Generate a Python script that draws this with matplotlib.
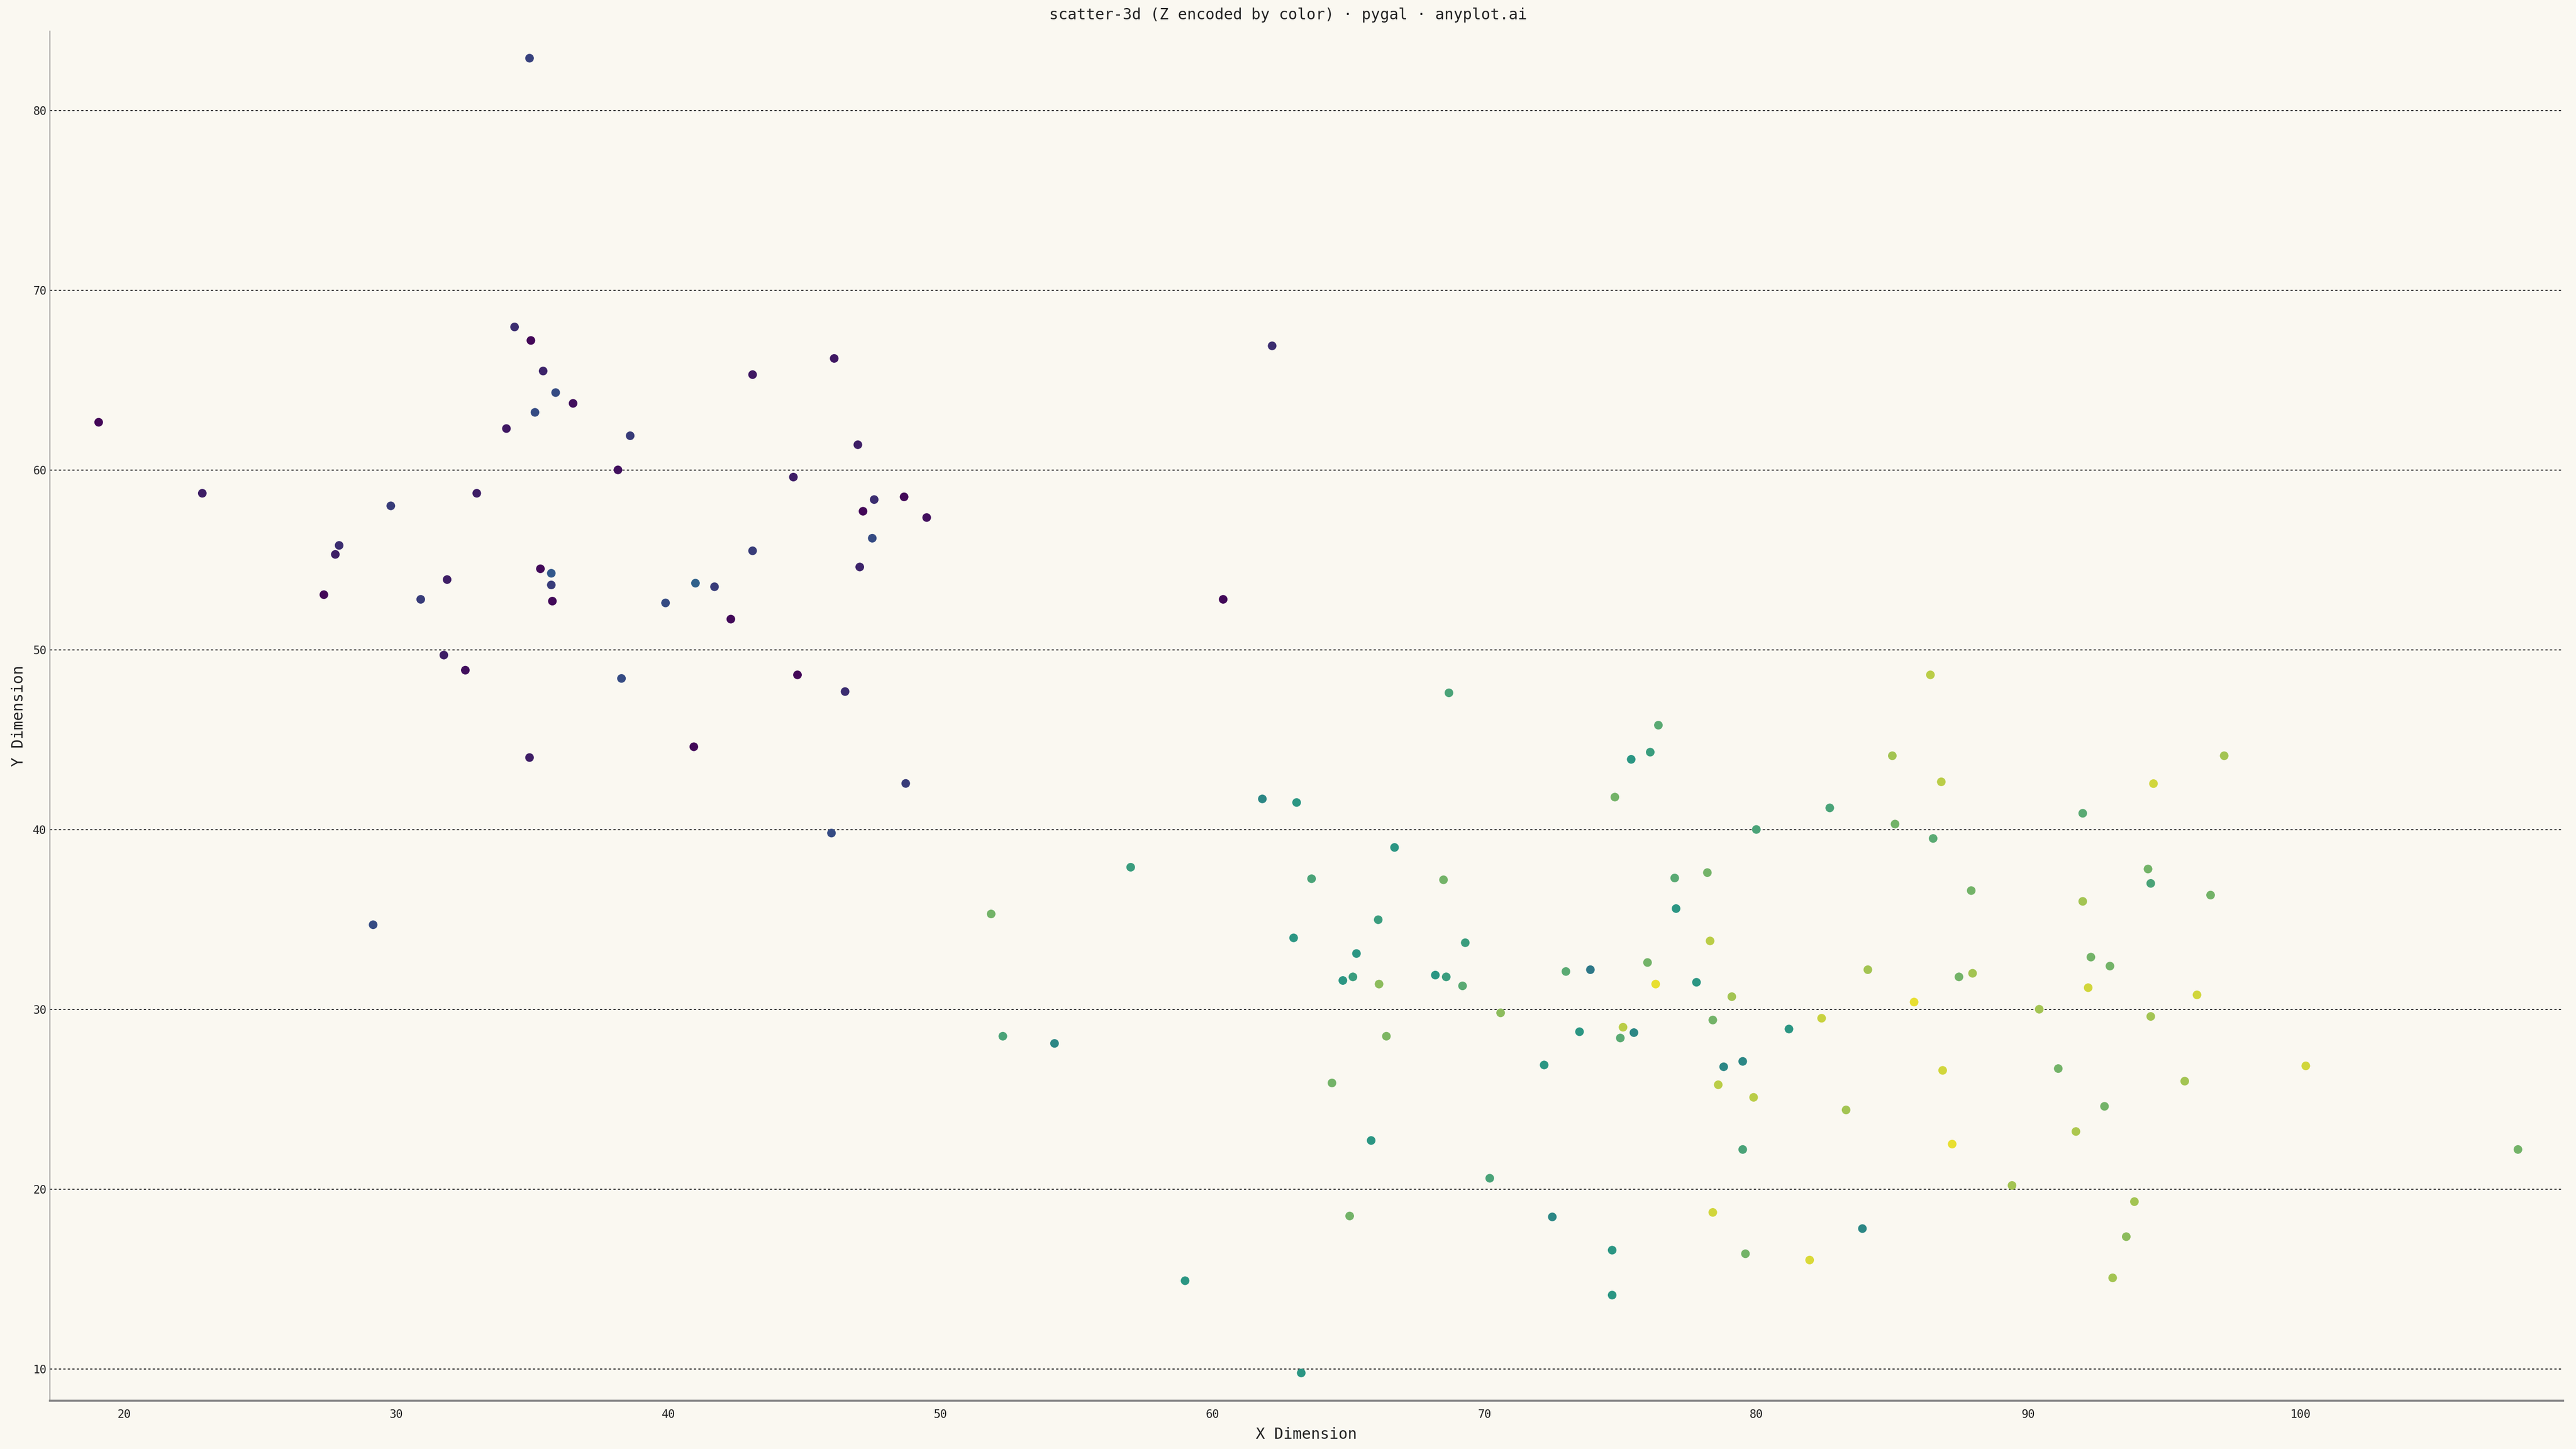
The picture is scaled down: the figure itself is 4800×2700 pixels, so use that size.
import numpy as np
import matplotlib
matplotlib.use("Agg")
import matplotlib.pyplot as plt
from matplotlib.colors import LinearSegmentedColormap

# values
x_vals = [19.06, 22.87, 34.9, 34.35, 34.95, 35.4, 35.86, 36.5, 35.1, 34.05,
          38.6, 38.15, 32.96, 29.8, 27.9, 27.76, 27.34, 31.87, 30.9, 35.3,
          35.7, 35.7, 35.74, 31.75, 32.54, 38.28, 34.9, 29.15, 39.9, 41.0,
          41.7, 42.3, 43.1, 43.1, 44.6, 44.75, 40.94, 46.1, 46.97, 47.57,
          47.16, 48.67, 49.5, 47.5, 47.04, 46.5, 48.73, 46.0, 60.4, 62.2,
          51.87, 52.3, 54.2, 57.0, 59.0, 61.84, 63.1, 63.65, 62.99, 63.27,
          64.4, 64.8, 65.17, 65.3, 65.05, 65.84, 66.1, 66.13, 66.4, 66.7,
          68.2, 68.6, 68.5, 68.7, 69.2, 69.3, 70.2, 70.6, 72.2, 72.5,
          73.0, 73.5, 73.9, 74.7, 74.7, 74.8, 75.0, 75.1, 75.4, 75.5,
          76.0, 76.1, 76.4, 76.3, 77.0, 77.05, 77.8, 78.2, 78.3, 78.4,
          78.4, 78.6, 78.8, 79.1, 79.5, 79.5, 79.6, 79.9, 80.0, 81.2,
          81.96, 82.4, 82.7, 83.3, 83.9, 84.1, 85.0, 85.1, 85.8, 86.4,
          86.5, 86.8, 86.85, 87.2, 87.45, 87.9, 87.95, 89.4, 90.4, 91.1,
          91.75, 92.0, 92.0, 92.2, 92.3, 92.8, 93.0, 93.1, 93.6, 93.9,
          94.4, 94.5, 94.5, 94.6, 95.75, 96.2, 96.7, 97.2, 100.2, 108.0]
y_vals = [62.65, 58.7, 82.9, 67.95, 67.2, 65.5, 64.3, 63.7, 63.2, 62.3,
          61.9, 60.0, 58.7, 58.0, 55.8, 55.3, 53.06, 53.9, 52.8, 54.5,
          54.25, 53.6, 52.7, 49.7, 48.86, 48.4, 44.0, 34.7, 52.6, 53.7,
          53.5, 51.7, 65.3, 55.5, 59.6, 48.6, 44.6, 66.2, 61.4, 58.35,
          57.7, 58.5, 57.35, 56.2, 54.6, 47.67, 42.56, 39.8, 52.8, 66.9,
          35.3, 28.5, 28.1, 37.9, 14.9, 41.7, 41.5, 37.26, 33.97, 9.77,
          25.9, 31.6, 31.8, 33.1, 18.5, 22.7, 34.98, 31.4, 28.5, 39.0,
          31.9, 31.8, 37.2, 47.6, 31.3, 33.7, 20.6, 29.8, 26.9, 18.45,
          32.1, 28.75, 32.2, 16.6, 14.1, 41.8, 28.4, 29.0, 43.9, 28.7,
          32.6, 44.3, 45.8, 31.4, 37.3, 35.6, 31.5, 37.6, 33.8, 29.4,
          18.7, 25.8, 26.8, 30.7, 27.1, 22.2, 16.4, 25.1, 40.0, 28.9,
          16.05, 29.5, 41.2, 24.4, 17.8, 32.2, 44.1, 40.3, 30.4, 48.6,
          39.5, 42.65, 26.6, 22.5, 31.8, 36.6, 32.0, 20.2, 30.0, 26.7,
          23.2, 40.9, 36.0, 31.2, 32.9, 24.6, 32.4, 15.06, 17.35, 19.3,
          37.8, 29.6, 37.0, 42.55, 26.0, 30.8, 36.35, 44.1, 26.85, 22.2]
z_vals = [0.02, 0.10, 0.22, 0.15, 0.02, 0.12, 0.25, 0.05, 0.25, 0.08,
          0.20, 0.05, 0.10, 0.20, 0.15, 0.10, 0.02, 0.10, 0.20, 0.03,
          0.30, 0.20, 0.03, 0.10, 0.05, 0.25, 0.10, 0.25, 0.25, 0.33,
          0.20, 0.03, 0.08, 0.20, 0.10, 0.02, 0.03, 0.08, 0.10, 0.15,
          0.02, 0.03, 0.05, 0.25, 0.12, 0.15, 0.20, 0.25, 0.03, 0.15,
          0.70, 0.60, 0.45, 0.55, 0.50, 0.45, 0.50, 0.60, 0.50, 0.50,
          0.70, 0.50, 0.55, 0.50, 0.70, 0.50, 0.55, 0.75, 0.72, 0.50,
          0.50, 0.55, 0.70, 0.60, 0.65, 0.55, 0.60, 0.75, 0.50, 0.45,
          0.65, 0.50, 0.40, 0.50, 0.50, 0.70, 0.65, 0.85, 0.50, 0.45,
          0.70, 0.55, 0.65, 0.95, 0.65, 0.50, 0.50, 0.70, 0.85, 0.70,
          0.90, 0.85, 0.45, 0.80, 0.45, 0.60, 0.70, 0.85, 0.60, 0.50,
          0.92, 0.88, 0.60, 0.80, 0.45, 0.80, 0.80, 0.70, 0.95, 0.85,
          0.65, 0.85, 0.90, 0.95, 0.70, 0.70, 0.80, 0.80, 0.80, 0.70,
          0.82, 0.65, 0.80, 0.90, 0.70, 0.70, 0.70, 0.80, 0.75, 0.80,
          0.70, 0.80, 0.60, 0.90, 0.80, 0.90, 0.70, 0.80, 0.90, 0.70]

title = "scatter-3d (Z encoded by color) · pygal · anyplot.ai"
bg = "#faf8f1"
# muted viridis-like ramp, sampled from the reference dots
stop_pos = [0.0, 0.3, 0.5, 0.65, 0.8, 1.0]
stop_colors = ["#440154", "#32598c", "#2a9683", "#5aaa73", "#a3c452", "#fde725"]

plt.rcParams["font.family"] = ["DejaVu Sans Mono", "DejaVu Sans"]

cmap = LinearSegmentedColormap.from_list("z_scale", list(zip(stop_pos, stop_colors)))

fig = plt.figure(figsize=(16, 9), dpi=300, facecolor=bg)
ax = fig.add_axes([0.0194, 0.0335, 0.9756, 0.9452], facecolor=bg)

ax.scatter(x_vals, y_vals, c=z_vals, cmap=cmap, vmin=0, vmax=1,
           s=15, linewidths=0, zorder=3)

ax.set_xlim(17.27, 109.66)
ax.set_ylim(8.24, 84.42)
ax.set_xticks(np.arange(20, 101, 10))
ax.set_yticks(np.arange(10, 81, 10))

ax.yaxis.grid(True, linestyle=(0, (2, 2)), color="#333333", linewidth=0.5)
ax.xaxis.grid(False)
ax.set_axisbelow(True)

for side in ["top", "right"]:
    ax.spines[side].set_visible(False)
ax.spines["left"].set_color("#888888")
ax.spines["left"].set_linewidth(0.4)
ax.spines["bottom"].set_color("#888888")
ax.spines["bottom"].set_linewidth(0.9)

ax.tick_params(axis="both", length=0, labelsize=5.1, colors="#222222")
ax.tick_params(axis="x", pad=4)
ax.tick_params(axis="y", pad=1.5)

ax.set_xlabel("X Dimension", fontsize=6.8, labelpad=3, color="#222222")
ax.set_ylabel("Y Dimension", fontsize=6.8, labelpad=3, color="#222222")
fig.suptitle(title, fontsize=6.8, y=0.995, color="#222222")

fig.savefig("out.png", dpi=300, facecolor=bg)
